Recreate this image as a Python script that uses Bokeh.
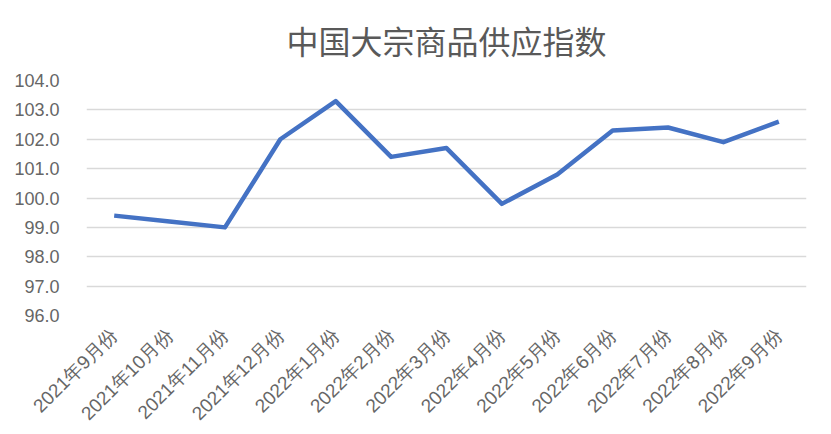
from bokeh.plotting import figure
from bokeh.models import FactorRange, Range1d, FixedTicker, PrintfTickFormatter
from bokeh.embed import file_html
from bokeh.resources import INLINE

title_text = "中国大宗商品供应指数"
months = ["2021年9月份", "2021年10月份", "2021年11月份", "2021年12月份", "2022年1月份",
          "2022年2月份", "2022年3月份", "2022年4月份", "2022年5月份", "2022年6月份",
          "2022年7月份", "2022年8月份", "2022年9月份"]
supply_index = [99.4, 99.2, 99.0, 102.0, 103.3, 101.4, 101.7, 99.8, 100.8, 102.3, 102.4, 101.9, 102.6]
y_ticks = [96, 97, 98, 99, 100, 101, 102, 103, 104]

p = figure(width=825, height=434, output_backend="svg", toolbar_location=None,
           x_range=FactorRange(*months, range_padding=0),
           y_range=Range1d(96, 104),
           title=title_text,
           min_border_left=86, min_border_right=19, min_border_top=80, min_border_bottom=119)

p.line(x=months, y=supply_index, line_color="#4472C4", line_width=4.5, line_join="round")

p.title.align = "center"
p.title.vertical_align = "top"
p.title.text_font = "Noto Sans CJK SC"
p.title.text_font_size = "32px"
p.title.text_font_style = "normal"
p.title.text_color = "#595959"
p.title.standoff = 31

p.outline_line_color = None
p.xgrid.grid_line_color = None
p.ygrid.grid_line_color = "#d9d9d9"
p.ygrid.grid_line_width = 1.5

p.yaxis.ticker = FixedTicker(ticks=y_ticks)
p.yaxis.formatter = PrintfTickFormatter(format="%.1f")
for ax in (p.xaxis[0], p.yaxis[0]):
    ax.axis_line_color = None
    ax.major_tick_line_color = None
    ax.minor_tick_line_color = None
    ax.major_label_text_color = "#666666"
    ax.major_label_text_font = "Liberation Sans"
p.yaxis.major_label_text_font_size = "18px"
p.yaxis.major_label_standoff = 21
p.xaxis.major_label_text_font_size = "19px"
p.xaxis.major_label_orientation = 0.785398
p.xaxis.major_label_standoff = 10

open("out.html", "w").write(file_html(p, INLINE))
